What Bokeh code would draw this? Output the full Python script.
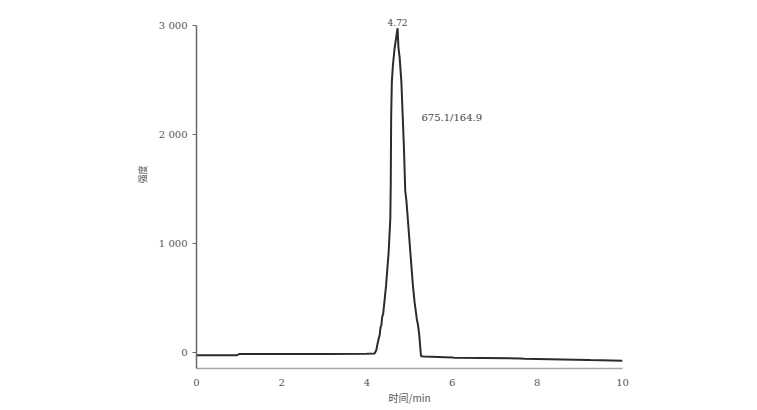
from math import pi
from bokeh.plotting import figure
from bokeh.models import Range1d, FixedTicker, Label, ColumnDataSource, Title
from bokeh.embed import file_html
from bokeh.resources import INLINE

# ---- data ----
time_min = [0.00, 0.95, 1.00, 2.00, 3.00, 4.00, 4.18, 4.22, 4.26, 4.30, 4.32, 4.34,
            4.36, 4.38, 4.41, 4.45, 4.51, 4.55, 4.56, 4.565, 4.57, 4.585, 4.61, 4.65,
            4.72, 4.74, 4.77, 4.81, 4.84, 4.87, 4.90, 4.93, 4.96, 5.02, 5.08, 5.12,
            5.17, 5.20, 5.23, 5.27, 5.35, 6.00, 6.05, 7.60, 7.70, 9.20, 9.25, 10.00]
intensity = [-25, -25, -15, -15, -14, -12, -10, 20, 100, 160, 230, 250,
             330, 350, 460, 615, 917, 1229, 1550, 1872, 2174, 2477, 2633, 2789,
             2975, 2800, 2700, 2477, 2174, 1872, 1486, 1380, 1229, 917, 615, 459,
             312, 250, 156, -35, -37, -45, -48, -55, -58, -68, -70, -75]

x_ticks = [0, 2, 4, 6, 8, 10]
y_ticks = [0, 1000, 2000, 3000]
y_tick_labels = ["0", "1 000", "2 000", "3 000"]
peak_time = 4.72
peak_label = "4.72"
transition_label = "675.1/164.9"
transition_pos = [5.28, 2156]
x_label = "时间/min"
y_label = "强度"
y_axis_span = [-147, 3000]

p = figure(width=749, height=410, output_backend="svg", toolbar_location=None,
           x_range=Range1d(0, 10), y_range=Range1d(-147, 3119),
           min_border_left=196, min_border_right=127,
           min_border_top=12, min_border_bottom=42)
p.outline_line_color = None
p.grid.visible = False
p.background_fill_color = "white"
p.border_fill_color = "white"

src = ColumnDataSource(dict(t=time_min, v=intensity))
p.line("t", "v", source=src, line_color="#2b2b2b", line_width=2)

# axes
xa = p.xaxis[0]
xa.ticker = FixedTicker(ticks=x_ticks)
xa.minor_tick_line_color = None
xa.major_tick_out = 0
xa.major_tick_in = 0
xa.axis_line_color = "#a8a8a8"
xa.axis_line_width = 1.5
xa.major_label_standoff = 10
xa.major_label_text_font = "DejaVu Serif"
xa.major_label_text_font_size = "10px"
xa.major_label_text_color = "#555555"
xa.axis_label = x_label
xa.axis_label_text_font = "Noto Sans CJK SC"
xa.axis_label_text_font_size = "10px"
xa.axis_label_text_font_style = "normal"
xa.axis_label_text_color = "#555555"
xa.axis_label_standoff = 1

ya = p.yaxis[0]
ya.ticker = FixedTicker(ticks=y_ticks)
ya.bounds = tuple(y_axis_span)
ya.major_label_overrides = {t: s for t, s in zip(y_ticks, y_tick_labels)}
ya.minor_tick_line_color = None
ya.major_tick_out = 4
ya.major_tick_in = 0
ya.major_tick_line_color = "#666666"
ya.axis_line_color = "#6a6a6a"
ya.axis_line_width = 1.5
ya.major_label_standoff = 5
ya.major_label_text_font = "DejaVu Serif"
ya.major_label_text_font_size = "10px"
ya.major_label_text_color = "#555555"

# y title as a side title so it can be shifted along the axis
p.add_layout(Title(text=y_label, align="right", offset=153, standoff=14,
                   text_font="Noto Sans CJK SC", text_font_size="9px",
                   text_font_style="normal", text_color="#555555"), "left")

# annotations
p.add_layout(Label(x=peak_time, y=max(intensity), text=peak_label,
                   text_font="DejaVu Serif", text_font_size="9px",
                   text_color="#444444", text_align="center",
                   text_baseline="bottom", y_offset=2))
p.add_layout(Label(x=transition_pos[0], y=transition_pos[1], text=transition_label,
                   text_font="DejaVu Serif", text_font_size="10px",
                   text_color="#444444", text_align="left",
                   text_baseline="middle"))

open("out.html", "w").write(file_html(p, INLINE))
